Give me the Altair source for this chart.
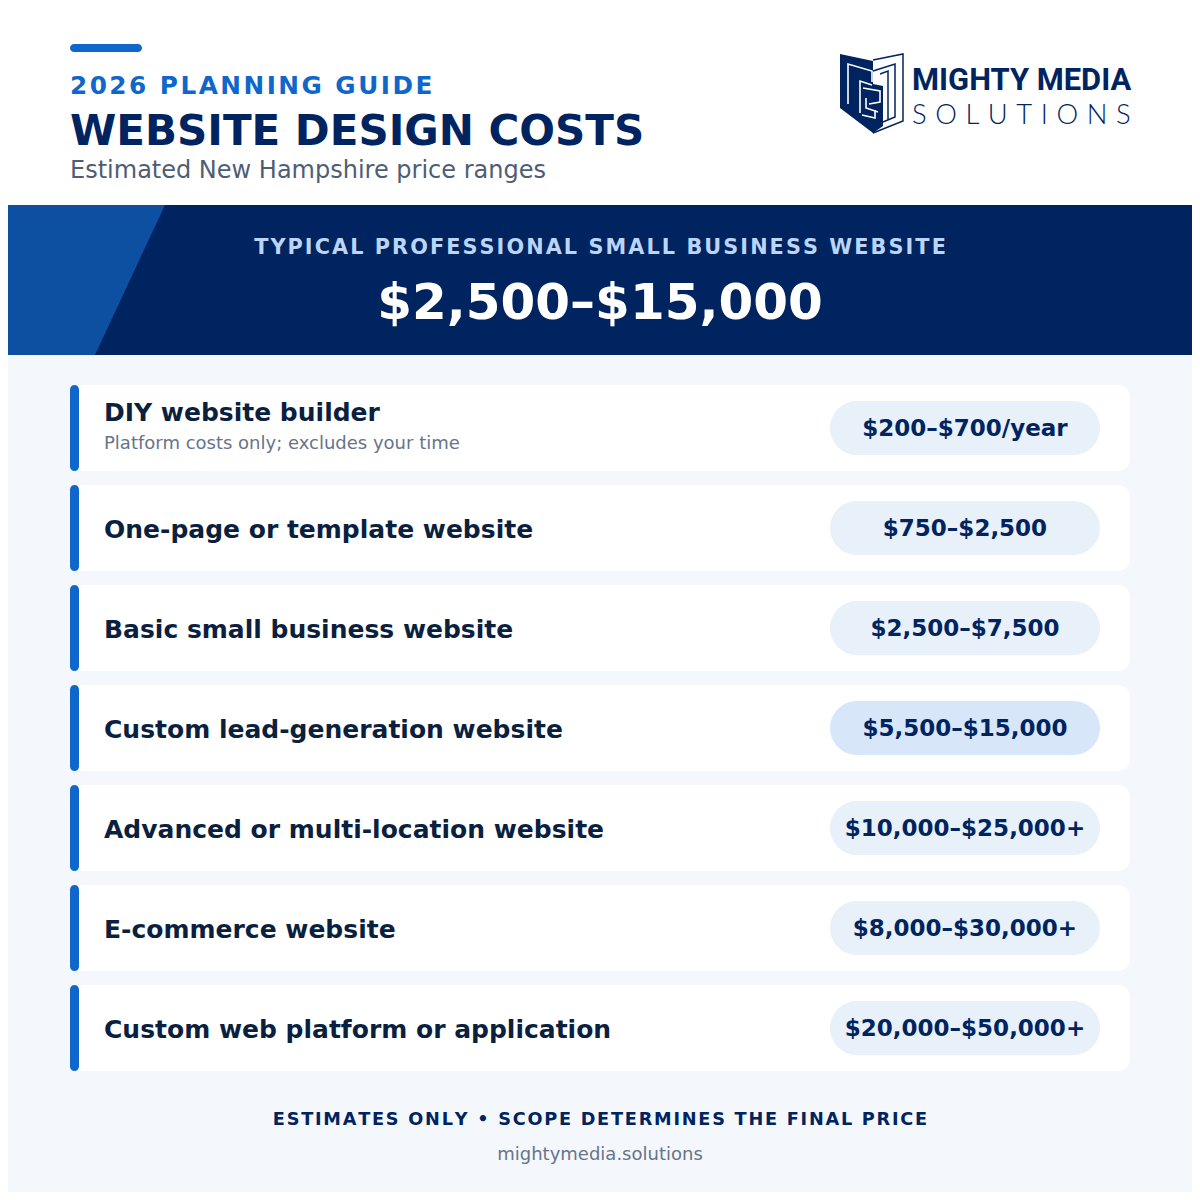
import altair as alt
import pandas as pd

FONT = "DejaVu Sans"
NAVY, BLUE, MID, INK, MUTED = "#00245f", "#0f67cb", "#0d4fa0", "#0b1f3f", "#66748a"
PAGE, PILL, PILL_HI = "#f4f7fc", "#e8f0fa", "#d8e6fa"
HAIR = "\u200a"

def track(s, n=1):
    return (HAIR * n).join(s)

services = ["DIY website builder", "One-page or template website", "Basic small business website",
            "Custom lead-generation website", "Advanced or multi-location website",
            "E-commerce website", "Custom web platform or application"]
prices = ["$200–$700/year", "$750–$2,500", "$2,500–$7,500", "$5,500–$15,000",
          "$10,000–$25,000+", "$8,000–$30,000+", "$20,000–$50,000+"]
notes = ["Platform costs only; excludes your time", "", "", "", "", "", ""]
highlighted = [False, False, False, True, False, False, False]

sx = alt.Scale(domain=[8, 1192], range=[0, 1184])
sy = alt.Scale(domain=[8, 1192], range=[0, 1184])
X = lambda f: alt.X(f, type="quantitative", scale=sx, axis=None)
Y = lambda f: alt.Y(f, type="quantitative", scale=sy, axis=None)

def box(x0, x1, y0, y1, color, radius=0):
    d = pd.DataFrame({"a": [x0], "b": [x1], "c": [y0], "e": [y1]})
    return alt.Chart(d).mark_rect(color=color, cornerRadius=radius, opacity=1).encode(
        x=X("a"), x2="b", y=Y("c"), y2="e")

def label(s, x, y, size, color, weight="normal", align="left", font=FONT):
    d = pd.DataFrame({"t": [s], "x": [x], "y": [y]})
    return alt.Chart(d).mark_text(font=font, fontSize=size, color=color, fontWeight=weight,
                                  align=align, baseline="alphabetic").encode(
        x=X("x"), y=Y("y"), text="t:N")

def path(p, color, stroke=0):
    d = pd.DataFrame({"k": [0]})
    kw = dict(filled=False, stroke=color, strokeWidth=stroke) if stroke else dict(filled=True, fill=color, strokeWidth=0)
    return alt.Chart(d).mark_point(shape=p, size=4, opacity=1, **kw).encode(x=alt.value(-8), y=alt.value(-8))

rows = pd.DataFrame({"service": services, "price": prices, "note": notes, "hi": highlighted})
rows["top"] = 385 + 100 * rows.index
rows["bottom"] = rows["top"] + 86
rows["ptop"] = rows["top"] + 16
rows["pbot"] = rows["top"] + 70
rows["tx"] = 104
rows.loc[rows["note"] == "", "ty"] = rows["top"] + 53
rows.loc[rows["note"] != "", "ty"] = rows["top"] + 35.5
rows["ny"] = rows["top"] + 64
rows["pbase"] = rows["top"] + 51
rows["a0"], rows["a1"], rows["b0"], rows["b1"] = 70, 1130, 70, 79
rows["c0"], rows["c1"], rows["px"] = 830, 1100, 965

base = alt.Chart(rows)
cards = base.mark_rect(color="white", cornerRadius=12, opacity=1).encode(x=X("a0"), x2="a1", y=Y("top"), y2="bottom")
bars = base.mark_rect(color=BLUE, cornerRadius=4.5, opacity=1).encode(x=X("b0"), x2="b1", y=Y("top"), y2="bottom")
pills = base.mark_rect(cornerRadius=27, opacity=1).encode(
    x=X("c0"), x2="c1", y=Y("ptop"), y2="pbot",
    color=alt.Color("hi:N", scale=alt.Scale(domain=[False, True], range=[PILL, PILL_HI]), legend=None))
titles = base.mark_text(font=FONT, fontSize=25, fontWeight="bold", color=INK, align="left", baseline="alphabetic").encode(
    x=X("tx"), y=Y("ty"), text="service:N")
subs = base.transform_filter("datum.note != ''").mark_text(font=FONT, fontSize=18, color=MUTED, align="left", baseline="alphabetic").encode(
    x=X("tx"), y=Y("ny"), text="note:N")
ptext = base.mark_text(font=FONT, fontSize=23, fontWeight="bold", color=NAVY, align="center", baseline="alphabetic").encode(
    x=X("px"), y=Y("pbase"), text="price:N")

emblem_fill = "M840 54 L873 61 L873 133 L840 108 Z M873 84 L883 86 L883 126 L873 133 Z"
emblem_white = ("M848 104 L848 64 L872 71 L872 82 M860 113 L860 81 L872 85 "
                "M863 88 L880 91 L880 102 L869 104 M862 115 L875 118 L875 110 M866 98 L866 108 L878 112")
emblem_line = "M873 60 L903 54 L903 121 L873 133 M873 71 L895 64 L895 117 L883 122 M880 74 L888 71 L888 120"

layers = [
    box(8, 1192, 8, 205, "white"),
    box(8, 1192, 355, 1192, PAGE),
    box(8, 1192, 205, 355, NAVY),
    path("M8 205 L165 205 L95 355 L8 355 Z", MID),
    box(70, 142, 44, 52, BLUE, 4),
    label(track("2026 PLANNING GUIDE"), 70, 93.5, 24.75, BLUE, "bold"),
    label("WEBSITE DESIGN COSTS", 70, 145, 42, NAVY, "bold"),
    label("Estimated New Hampshire price ranges", 70, 178, 24, "#4e5d75"),
    path(emblem_fill, NAVY),
    path(emblem_white, "white", 1.6),
    path(emblem_line, NAVY, 1.5),
    label("MIGHTY MEDIA", 912, 90, 30.9, NAVY, "bold", font="Roboto"),
    label(track("SOLUTIONS", 5), 912, 124, 27.4, NAVY, 300, font="Lato"),
    label(track("TYPICAL PROFESSIONAL SMALL BUSINESS WEBSITE"), 600, 254, 20.8, "#bcd4f5", "bold", "center"),
    label("$2,500–$15,000", 600, 319, 50, "white", "bold", "center"),
    cards, bars, pills, titles, subs, ptext,
    label(track("ESTIMATES ONLY • SCOPE DETERMINES THE FINAL PRICE"), 600, 1125, 17.7, NAVY, "bold", "center"),
    label("mightymedia.solutions", 600, 1160, 18, MUTED, "normal", "center"),
]

chart = alt.layer(*layers).properties(
    width=1184, height=1184, padding=0, autosize=alt.AutoSizeParams(type="none"), background="white"
).configure_view(stroke=None)

chart.save("out.html", embed_options={"renderer": "svg", "actions": False})
